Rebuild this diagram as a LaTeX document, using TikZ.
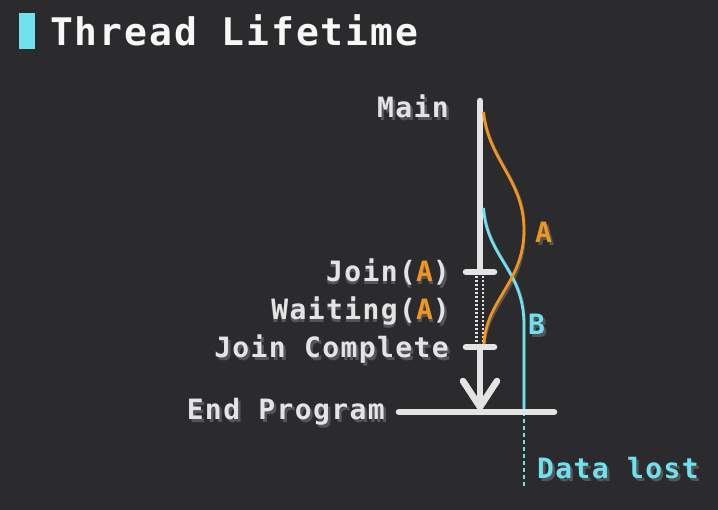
\documentclass[tikz,border=0pt]{standalone}
\usepackage{fontspec}
\usepackage{xcolor}
\usetikzlibrary{positioning}
\newfontfamily\codefont{DejaVu Sans Mono}[LetterSpace=5]
\definecolor{bgdark}{HTML}{2B2A2D}
\definecolor{lightline}{HTML}{E4E4E4}
\definecolor{shadegray}{HTML}{55545A}
\definecolor{threadA}{HTML}{F0961E}
\definecolor{threadB}{HTML}{6FE2EE}
\newcommand\plainA[1]{#1}
\newcommand\hlA[1]{\textcolor{threadA}{#1}}
% text with a drop shadow
\newcommand\shadowlabel[3]{%
  \node[lblshadow, #2, xshift=2.5pt, yshift=-2.5pt] {\let\hlA\plainA #3};
  \node[lbl, #2] (#1) {#3};}

\begin{document}
\begin{tikzpicture}[x=1pt, y=-1pt,
lbl/.style={inner sep=0pt, text=lightline, font=\codefont\bfseries\fontsize{28}{30}\selectfont},
lblshadow/.style={lbl, text=shadegray},
mainline/.style={draw=lightline, line width=6.5pt, line cap=round, line join=round},
threadline/.style={line width=2.8pt},
dots/.style={draw=lightline, line width=2.6pt, dash pattern=on 2.2pt off 1.8pt},
]
\fill[bgdark] (0,0) rectangle (718,510);
\useasboundingbox (0,0) rectangle (718,510);

%Title
\fill[threadB] (19,13) rectangle (35,49);
\node[anchor=base west, inner sep=0pt, text=white!97!black, font=\codefont\bfseries\fontsize{38}{40}\selectfont] (title) at (50,46) {Thread Lifetime};

%Points on the main thread
\coordinate (mainTop) at (480,101);
\coordinate (mainEnd) at (480,407);
\coordinate (joinA) at (480,272);
\coordinate (joinDone) at (480,347);
\coordinate (endLeft) at (399,412);
\coordinate (endRight) at (554,412);
\coordinate (startA) at (483.5,112);
\coordinate (bulgeA) at (524,230);
\coordinate (stopA) at (484,344);
\coordinate (startB) at (483.5,208);
\coordinate (bendB) at (524,325);
\coordinate (endB) at (524,412);
\coordinate (lostB) at (524,487);

%Shadows
\begin{scope}[xshift=2.5pt, yshift=-2.5pt, shadegray]
\draw[mainline, draw=shadegray] (mainTop) -- (joinA) (joinDone) -- (mainEnd);
\draw[mainline, draw=shadegray] (mainEnd) -- ++(-17,-26) (mainEnd) -- ++(17,-26);
\draw[mainline, draw=shadegray] (joinA) ++(-14,0) -- ++(28,0);
\draw[mainline, draw=shadegray] (joinDone) ++(-14,0) -- ++(28,0);
\draw[mainline, draw=shadegray] (endLeft) -- (endRight);
\draw[threadline] (startB) .. controls (487,258) and (524,270) .. (bendB) -- (endB);
\draw[threadline] (startA) .. controls (488,160) and (524,180) .. (bulgeA)
  .. controls (524,282) and (486,300) .. (stopA);
\end{scope}

%Lines
\draw[mainline] (mainTop) -- (joinA);
\draw[mainline] (joinDone) -- (mainEnd);
\draw[mainline] (mainEnd) -- ++(-17,-26) (mainEnd) -- ++(17,-26);
\draw[dots] ([xshift=-3.5pt]joinA) -- ([xshift=-3.5pt]joinDone);
\draw[dots] ([xshift=2.8pt]joinA) -- ([xshift=2.8pt]joinDone);
\draw[mainline] (joinA) ++(-14,0) -- ++(28,0);
\draw[mainline] (joinDone) ++(-14,0) -- ++(28,0);
\draw[threadline, threadB] (startB) .. controls (487,258) and (524,270) .. (bendB) -- (endB);
\draw[threadline, threadB, dash pattern=on 4pt off 3pt] (endB) -- (lostB);
\draw[mainline] (endLeft) -- (endRight);
\draw[threadline, threadA] (startA) .. controls (488,160) and (524,180) .. (bulgeA)
  .. controls (524,282) and (486,300) .. (stopA);

%Labels
\shadowlabel{mainLabel}{anchor=base east, at={(449,118)}}{Main}
\shadowlabel{joinLabel}{anchor=base east, at={(450,282)}}{Join(\hlA{A})}
\shadowlabel{waitLabel}{anchor=base east, at={(450,320)}}{Waiting(\hlA{A})}
\shadowlabel{doneLabel}{anchor=base east, at={(449,358)}}{Join Complete}
\shadowlabel{endLabel}{anchor=base east, at={(385,420)}}{End Program}
\node[lblshadow, anchor=base west, xshift=2.5pt, yshift=-2.5pt] at (535,243) {A};
\node[lbl, text=threadA, anchor=base west] (labelA) at (535,243) {A};
\node[lblshadow, anchor=base west, xshift=2.5pt, yshift=-2.5pt] at (528,335) {B};
\node[lbl, text=threadB, anchor=base west] (labelB) at (528,335) {B};
\node[lblshadow, anchor=base west, xshift=2.5pt, yshift=-2.5pt] at (537,479) {Data lost};
\node[lbl, text=threadB, anchor=base west] (lostLabel) at (537,479) {Data lost};
\end{tikzpicture}
\end{document}
